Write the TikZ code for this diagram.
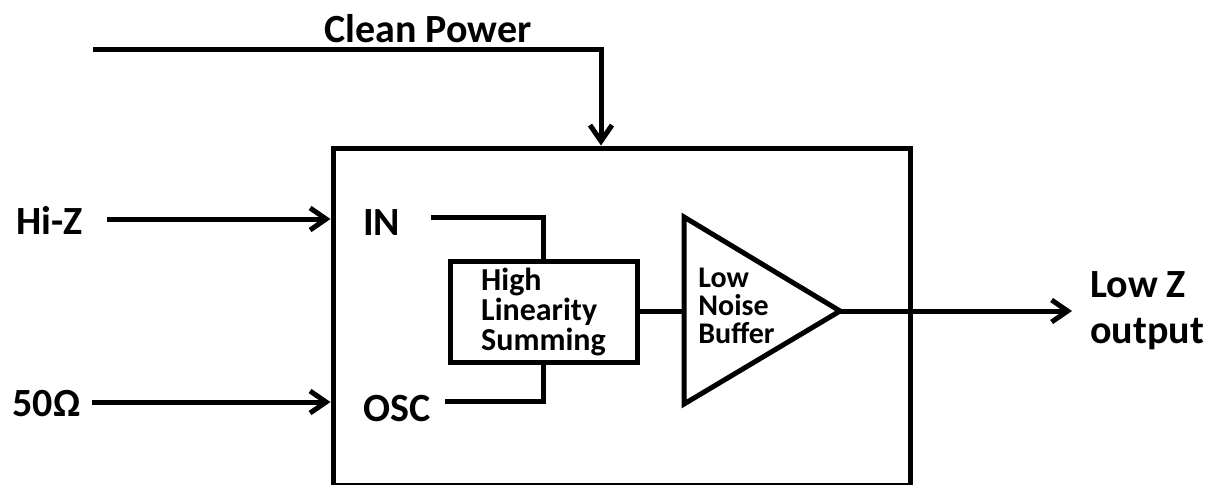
\documentclass[tikz,border=0pt]{standalone}
\usepackage{fontspec}
\setmainfont{Carlito}
\usepackage{tikz}
\usetikzlibrary{arrows.meta,positioning}

\begin{document}
\begin{tikzpicture}[
  x=0.5pt, y=-0.5pt,
  font=\bfseries\fontsize{20}{23}\selectfont,
  node distance=8pt,
  wire/.style={line width=2.5pt, line join=miter},
  arr/.style={wire, -{Straight Barb[length=8pt,width=11pt]}},
  lbl/.style={inner sep=1pt, align=left},
  chipbox/.style={draw, line width=2.5pt, minimum width=288.5pt,
                  minimum height=168.5pt},
  sumbox/.style={draw, line width=2.5pt, minimum width=93.5pt,
                 minimum height=49.5pt, align=left,
                 font=\bfseries\fontsize{16}{13}\selectfont}
]
\useasboundingbox (0,0) rectangle (1213,484);

\node[chipbox] (chip) at (621.5,316.5) {};
\node[sumbox] (sum) at (543.5,312) {High\\Linearity\\Summing};

\node[lbl] (power) at (428,29) {Clean Power};
\node[lbl] (hiz) at (49.5,220) {Hi-Z};
\node[lbl] (fifty) at (46.5,404) {50Ω};
\node[lbl] (in) at (381.5,223) {IN};
\node[lbl] (osc) at (397.5,409) {OSC};

% buffer
\coordinate (bufin) at (684,311);
\coordinate (bufout) at (840,311);
\draw[wire] (684,217) -- (bufout) -- (684,404) -- cycle;
\node[lbl, anchor=west, inner sep=0pt,
  font=\bfseries\fontsize{15}{14}\selectfont] (buftext) at (698,306)
  {Low\\Noise\\Buffer};

% power feed
\coordinate (pwrsrc) at (93,49);
\coordinate (pwrturn) at (601,49);
\draw[arr] (pwrsrc) -- (pwrturn) -- (pwrturn |- chip.north);

% inputs
\coordinate (hizsrc) at (107,219);
\coordinate (fiftysrc) at (92,402);
\draw[arr] (hizsrc) -- (hizsrc -| chip.west);
\draw[arr] (fiftysrc) -- (fiftysrc -| chip.west);

\coordinate (inpin) at (431,217);
\coordinate (oscpin) at (445,401);
\draw[wire] (inpin) -| (sum.north);
\draw[wire] (oscpin) -| (sum.south);
\draw[wire] (sum.east |- bufin) -- (bufin);

% output
\coordinate (outtip) at (1072,311);
\draw[arr] (bufout) -- (outtip);
\node[lbl, right=8pt of outtip] (lowz) {Low Z\\output};
\end{tikzpicture}
\end{document}
